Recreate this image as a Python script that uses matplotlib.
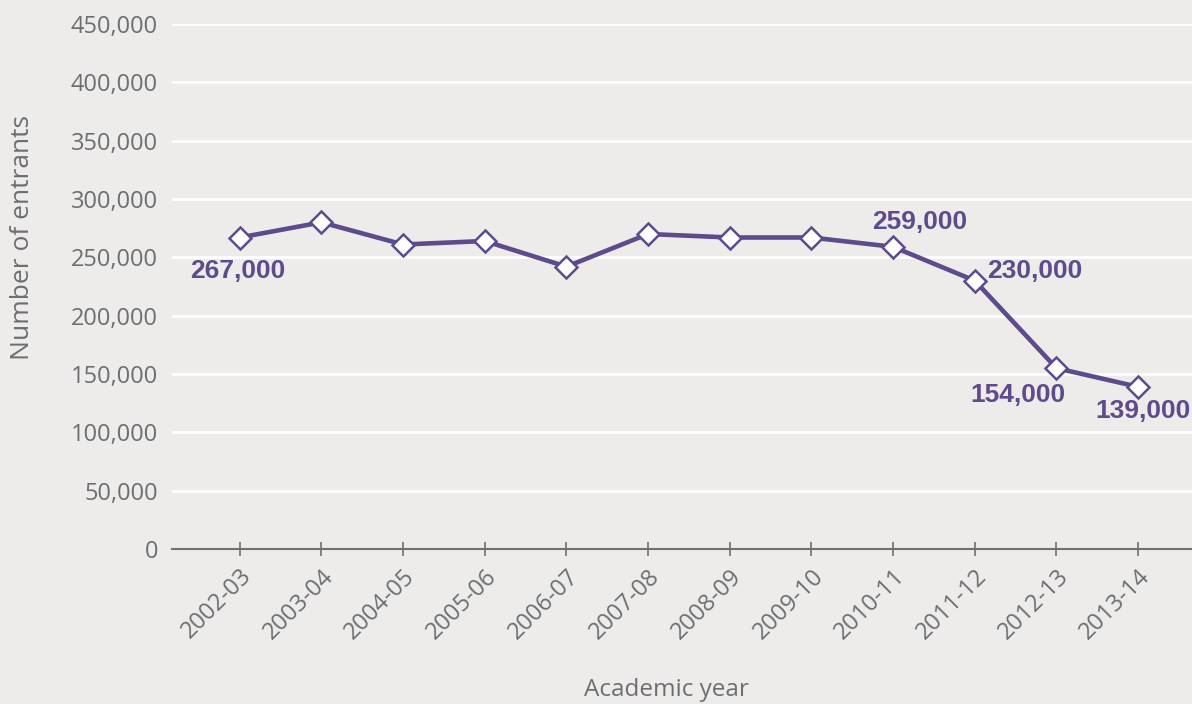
import matplotlib.pyplot as plt
from matplotlib.ticker import FuncFormatter

years = ['2002-03', '2003-04', '2004-05', '2005-06', '2006-07', '2007-08',
         '2008-09', '2009-10', '2010-11', '2011-12', '2012-13', '2013-14']
entrants = [267000, 280000, 261000, 264000, 242000, 270000,
            267000, 267000, 259000, 230000, 155000, 139000]
# labelled points: index -> (text, offset in points, horizontal alignment)
labels = {0: ('267,000', (-1.5, -24), 'center'),
          8: ('259,000', (19, 18), 'center'),
          9: ('230,000', (9, 7), 'left'),
          10: ('154,000', (-28, -19.5), 'center'),
          11: ('139,000', (3.5, -17.5), 'center')}

bg = '#edecea'
purple = '#5d4b8c'
grey = '#6d6e71'

plt.rcParams['font.family'] = ['Open Sans', 'DejaVu Sans']

fig = plt.figure(figsize=(11.92, 7.04), dpi=100, facecolor=bg)
ax = fig.add_axes([172 / 1192, 1 - 549 / 704, 1 - 172 / 1192, (549 - 24) / 704])
ax.set_facecolor(bg)

x = list(range(len(years)))
ax.plot(x, entrants, color=purple, lw=3.3, marker='D', markersize=11,
        markerfacecolor='white', markeredgecolor=purple, markeredgewidth=1.8,
        zorder=3, clip_on=False)

for i, (txt, off, ha) in labels.items():
    ax.annotate(txt, (i, entrants[i]), xytext=off, textcoords='offset points',
                ha=ha, va='center', color=purple, fontsize=19, fontweight='bold',
                family='Liberation Sans')

ax.set_ylim(0, 450000)
ax.set_xlim(-0.83, 11.66)
ax.set_yticks(range(0, 450001, 50000))
ax.yaxis.set_major_formatter(FuncFormatter(lambda v, p: f'{int(v):,}'))
ax.grid(axis='y', color='white', lw=2)
ax.set_axisbelow(True)

ax.set_xticks(x)
ax.set_xticklabels(years, rotation=45, ha='right', rotation_mode='anchor')

for s in ['top', 'right', 'left']:
    ax.spines[s].set_visible(False)
ax.spines['bottom'].set_color('#707070')
ax.spines['bottom'].set_linewidth(1.5)

ax.tick_params(axis='y', length=0, pad=10, labelsize=17, labelcolor=grey)
ax.tick_params(axis='x', direction='inout', length=10, width=1.2, color='#707070',
               pad=6, labelsize=17, labelcolor=grey)

ax.set_xlabel('Academic year', fontsize=17.5, color=grey, va='center')
ax.xaxis.set_label_coords(0.485, -0.269)
ax.set_ylabel('Number of entrants', fontsize=19, color=grey, va='center')
ax.yaxis.set_label_coords(-0.147, 0.594)

fig.savefig('out.png', dpi=100, facecolor=bg)
